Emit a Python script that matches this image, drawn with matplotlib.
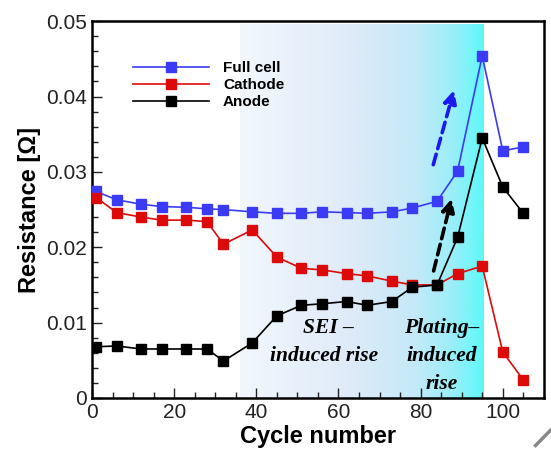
import numpy as np
import matplotlib
matplotlib.use("Agg")
import matplotlib.pyplot as plt
from matplotlib.colors import LinearSegmentedColormap
from matplotlib.ticker import MultipleLocator, FuncFormatter

plt.rcParams['font.family'] = ['Liberation Sans', 'DejaVu Sans']

# cycle numbers and resistances (ohm)
cycles = [1, 6, 12, 17, 23, 28, 32, 39, 45, 51, 56, 62, 67, 73, 78, 84, 89, 95, 100, 105]
full_cell = [0.0274, 0.0263, 0.0257, 0.0254, 0.0253, 0.0251, 0.0250, 0.0247, 0.0245,
             0.0245, 0.0247, 0.0246, 0.0245, 0.0247, 0.0252, 0.0261, 0.0301, 0.0454,
             0.0328, 0.0333]
cathode = [0.0266, 0.0246, 0.0240, 0.0236, 0.0236, 0.0234, 0.0204, 0.0223, 0.0187,
           0.0172, 0.0170, 0.0165, 0.0162, 0.0155, 0.0150, 0.0150, 0.0165, 0.0175,
           0.0061, 0.0024]
anode = [0.0068, 0.0069, 0.0065, 0.0065, 0.0065, 0.0065, 0.0049, 0.0073, 0.0109,
         0.0123, 0.0125, 0.0128, 0.0123, 0.0128, 0.0147, 0.0150, 0.0213, 0.0345,
         0.0280, 0.0245]

band = (36, 95.4)  # shaded cycle range

fig = plt.figure(figsize=(5.51, 4.5), dpi=100)
ax = fig.add_axes([0.167, 0.1156, 0.82, 0.8374])

# gradient background for the degradation region
cmap = LinearSegmentedColormap.from_list(
    'band', [(0, '#f1f7fd'), (0.45, '#dfebf8'), (0.72, '#c4e9f8'),
             (0.88, '#97eff9'), (1, '#5ef9f9')])
grad = np.linspace(0, 1, 256).reshape(1, -1)
ax.imshow(grad, cmap=cmap, aspect='auto', extent=[band[0], band[1], 0, 0.0496],
          zorder=0, interpolation='bicubic')

ax.plot(cycles, full_cell, '-s', color='#3b3bf5', lw=1.2, ms=7, label='Full cell', zorder=3)
ax.plot(cycles, cathode, '-s', color='#dd0a0a', lw=1.2, ms=7, label='Cathode', zorder=3)
ax.plot(cycles, anode, '-s', color='black', lw=1.2, ms=7, label='Anode', zorder=3)

# dashed trend arrows
arrow_kw = dict(arrowstyle='-|>', lw=2.6, ls=(0, (3, 1.6)), mutation_scale=19)
ax.annotate('', xy=(88.3, 0.0412), xytext=(82.9, 0.0306),
            arrowprops=dict(color='#1a1aee', **arrow_kw), zorder=4)
ax.annotate('', xy=(87.7, 0.0268), xytext=(83.0, 0.0165),
            arrowprops=dict(color='black', **arrow_kw), zorder=4)

note = dict(family='Liberation Serif', style='italic', weight='bold', fontsize=15.5,
            ha='center', va='baseline', zorder=5)
ax.text(57.5, 0.0086, 'SEI \u2013', **note)
ax.text(56.5, 0.0049, 'induced rise', **note)
ax.text(85.2, 0.0086, 'Plating\u2013', **note)
ax.text(85.2, 0.0049, 'induced', **note)
ax.text(85.2, 0.0012, 'rise', **note)

ax.set_xlim(0, 110)
ax.set_ylim(0, 0.05)
ax.xaxis.set_major_locator(MultipleLocator(20))
ax.xaxis.set_minor_locator(MultipleLocator(5))
ax.yaxis.set_major_locator(MultipleLocator(0.01))
ax.yaxis.set_minor_locator(MultipleLocator(0.002))
ax.yaxis.set_major_formatter(FuncFormatter(lambda v, p: '0' if v == 0 else f'{v:.2f}'))
ax.tick_params(which='both', direction='in', top=False, right=False, labelsize=15,
               colors='#222222')
ax.tick_params(which='major', length=7, width=1)
ax.tick_params(which='minor', length=4, width=1)
for s in ax.spines.values():
    s.set_linewidth(1.8)

ax.set_xlabel('Cycle number', fontsize=17, weight='bold', labelpad=2)
ax.set_ylabel('Resistance [\u03a9]', fontsize=17, weight='bold', labelpad=4)

leg = ax.legend(loc='upper left', bbox_to_anchor=(0.06, 0.93), frameon=False,
                fontsize=11, handlelength=5.0, labelspacing=0.2, handletextpad=0.9)
for t in leg.get_texts():
    t.set_fontweight('bold')

# small stroke in the lower right corner
fig.add_artist(plt.Line2D([0.972, 1.0], [0.01, 0.045], color='#888888', lw=2.5))

fig.savefig('out.png', dpi=100)
